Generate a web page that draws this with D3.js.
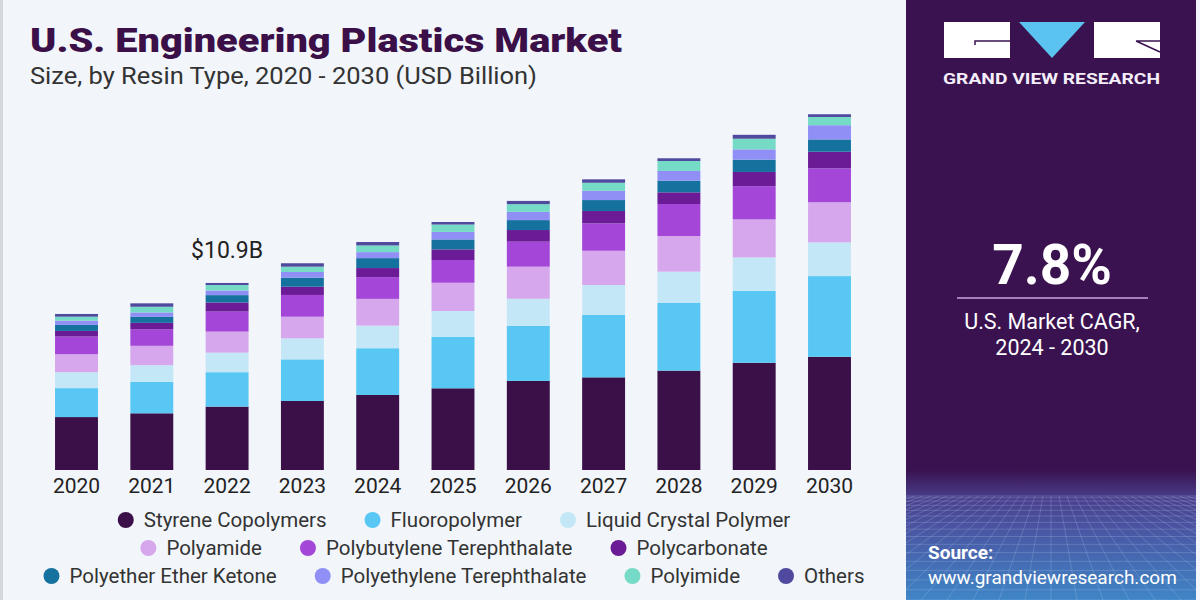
<!DOCTYPE html>
<html lang="en">
<head>
    <meta charset="UTF-8">
    <title>U.S. Engineering Plastics Market</title>
    <style>
        body {
            margin: 0;
            padding: 0;
            background-color: #f2f6fa;
            font-family: Roboto, "Liberation Sans", Arial, sans-serif;
        }
        svg { display: block; }
    </style>
</head>
<body>
    <div id="chart"></div>

    <script src="https://d3js.org/d3.v7.min.js"></script>
    <script>
        const width = 1200;
        const height = 600;

        // Data (USD Billion)
        const years = ["2020", "2021", "2022", "2023", "2024", "2025", "2026", "2027", "2028", "2029", "2030"];
        const resins = ["Styrene Copolymers", "Fluoropolymer", "Liquid Crystal Polymer", "Polyamide",
            "Polybutylene Terephthalate", "Polycarbonate", "Polyether Ether Ketone",
            "Polyethylene Terephthalate", "Polyimide", "Others"];
        const styrene   = [3.09, 3.31, 3.70, 4.03, 4.38, 4.77, 5.20, 5.41, 5.80, 6.26, 6.61];
        const fluoro    = [1.69, 1.84, 2.01, 2.43, 2.73, 3.01, 3.21, 3.64, 3.97, 4.20, 4.71];
        const lcp       = [0.93, 0.97, 1.14, 1.23, 1.32, 1.50, 1.59, 1.75, 1.81, 1.95, 1.97];
        const polyamide = [1.05, 1.13, 1.23, 1.26, 1.56, 1.65, 1.87, 2.00, 2.08, 2.22, 2.34];
        const pbt       = [1.03, 0.97, 1.17, 1.27, 1.27, 1.33, 1.46, 1.60, 1.87, 1.94, 1.98];
        const pc        = [0.33, 0.37, 0.53, 0.48, 0.53, 0.62, 0.68, 0.72, 0.68, 0.83, 0.97];
        const peek      = [0.35, 0.35, 0.43, 0.53, 0.58, 0.58, 0.58, 0.64, 0.68, 0.72, 0.72];
        const pet       = [0.25, 0.26, 0.27, 0.33, 0.35, 0.44, 0.48, 0.54, 0.57, 0.60, 0.83];
        const polyimide = [0.23, 0.33, 0.32, 0.31, 0.39, 0.43, 0.45, 0.47, 0.58, 0.62, 0.48];
        const others    = [0.16, 0.20, 0.12, 0.20, 0.20, 0.15, 0.19, 0.20, 0.16, 0.23, 0.16];
        const series = [styrene, fluoro, lcp, polyamide, pbt, pc, peek, pet, polyimide, others];
        const colors = ["#3b1048", "#58c7f3", "#c4e7f8", "#d6a7ec", "#a447d8", "#6c1b97",
            "#15729e", "#8f8ff6", "#75dac6", "#4f4a9e"];

        const annotation = { year: "2022", text: "$10.9B" };

        const svg = d3.select("#chart").append("svg")
            .attr("width", width)
            .attr("height", height);

        svg.append("rect").attr("width", width).attr("height", height).attr("fill", "#f2f6fa");
        svg.append("rect").attr("x", 0).attr("y", 0).attr("width", 3).attr("height", height).attr("fill", "#d4d7dc");

        // Title
        svg.append("text")
            .attr("x", 30).attr("y", 52)
            .attr("font-family", "Roboto, sans-serif")
            .attr("font-weight", 900)
            .attr("font-size", 33)
            .attr("textLength", 592)
            .attr("lengthAdjust", "spacingAndGlyphs")
            .attr("fill", "#3b1048")
            .text("U.S. Engineering Plastics Market");
        svg.append("text")
            .attr("x", 30).attr("y", 84)
            .attr("font-size", 23)
            .attr("textLength", 507)
            .attr("lengthAdjust", "spacingAndGlyphs")
            .attr("fill", "#333")
            .text("Size, by Resin Type, 2020 - 2030 (USD Billion)");

        // Scales
        const baseline = 470;
        const x = d3.scaleBand()
            .domain(years)
            .range([38.85, 867.15])
            .paddingInner(0.43)
            .paddingOuter(0.215);
        const y = d3.scaleLinear()
            .domain([0, 10.9])
            .range([baseline, 283.3]);

        const table = years.map((yr, i) => {
            const row = { year: yr };
            resins.forEach((r, j) => { row[r] = series[j][i]; });
            return row;
        });
        const stacked = d3.stack().keys(resins)(table);

        svg.append("g")
            .selectAll("g")
            .data(stacked)
            .join("g")
            .attr("fill", (d, i) => colors[i])
            .selectAll("rect")
            .data(d => d)
            .join("rect")
            .attr("x", d => x(d.data.year))
            .attr("y", d => y(d[1]))
            .attr("width", x.bandwidth())
            .attr("height", d => y(d[0]) - y(d[1]));

        // Year axis
        const xAxis = svg.append("g")
            .attr("transform", `translate(0,${baseline})`)
            .call(d3.axisBottom(x).tickSize(0).tickPadding(8));
        xAxis.select(".domain").remove();
        xAxis.selectAll("text")
            .attr("font-family", "Roboto, sans-serif")
            .attr("font-size", 21)
            .attr("fill", "#222");

        // Total label
        const annIdx = years.indexOf(annotation.year);
        const annTotal = d3.sum(series, s => s[annIdx]);
        svg.append("text")
            .attr("x", x(annotation.year) + x.bandwidth() / 2)
            .attr("y", y(annTotal) - 25)
            .attr("text-anchor", "middle")
            .attr("font-size", 23)
            .attr("fill", "#222")
            .text(annotation.text);

        // Legend
        const legendRows = [[0, 1, 2], [3, 4, 5], [6, 7, 8, 9]];
        const legendY = [527, 555, 583];
        const legendCenter = 454;
        const gap = 38;
        legendRows.forEach((row, ri) => {
            const g = svg.append("g");
            let cx = 0;
            row.forEach(k => {
                g.append("circle")
                    .attr("cx", cx + 8).attr("cy", legendY[ri] - 7)
                    .attr("r", 8)
                    .attr("fill", colors[k]);
                const t = g.append("text")
                    .attr("x", cx + 26).attr("y", legendY[ri])
                    .attr("font-size", 20.5)
                    .attr("fill", "#333")
                    .text(resins[k]);
                cx += 26 + t.node().getComputedTextLength() + gap;
            });
            const w = cx - gap;
            g.attr("transform", `translate(${legendCenter - w / 2},0)`);
        });

        // Right panel
        const panelX = 906, panelW = 290;
        const defs = svg.append("defs");
        defs.append("clipPath").attr("id", "panelClip")
            .append("rect").attr("x", panelX).attr("y", 0).attr("width", panelW).attr("height", height);
        const grad = defs.append("linearGradient")
            .attr("id", "floor").attr("x1", 0).attr("y1", 0).attr("x2", 0).attr("y2", 1);
        grad.append("stop").attr("offset", 0).attr("stop-color", "#3a1250");
        grad.append("stop").attr("offset", 0.22).attr("stop-color", "#4a3f8c");
        grad.append("stop").attr("offset", 0.45).attr("stop-color", "#4a55a2");
        grad.append("stop").attr("offset", 1).attr("stop-color", "#3f86c6");

        svg.append("rect")
            .attr("x", panelX).attr("y", 0)
            .attr("width", panelW).attr("height", height)
            .attr("fill", "#3a1250");
        svg.append("rect")
            .attr("x", panelX).attr("y", 470)
            .attr("width", panelW).attr("height", 130)
            .attr("fill", "url(#floor)");

        // perspective grid
        const grid = svg.append("g")
            .attr("clip-path", "url(#panelClip)")
            .attr("stroke", "#b4cdf2")
            .attr("stroke-opacity", 0.3)
            .attr("stroke-width", 0.8);
        const horizon = 496;
        d3.range(0, 16).forEach(i => {
            const yy = horizon + Math.pow(i / 15, 1.5) * 104;
            grid.append("line").attr("x1", panelX).attr("x2", panelX + panelW).attr("y1", yy).attr("y2", yy);
        });
        d3.range(-24, 25).forEach(i => {
            const vx = panelX + panelW / 2;
            grid.append("line")
                .attr("x1", vx + i * 8).attr("y1", horizon)
                .attr("x2", vx + i * 26).attr("y2", height);
        });

        // logo
        const logo = svg.append("g");
        logo.append("rect").attr("x", 944).attr("y", 22).attr("width", 66).attr("height", 36).attr("fill", "#fff");
        logo.append("path").attr("d", "M975,45 V41 H1010").attr("stroke", "#3a1250").attr("stroke-width", 1.5).attr("fill", "none");
        logo.append("path").attr("d", "M1019,22 H1085 L1052,58 Z").attr("fill", "#5bc3ef");
        logo.append("rect").attr("x", 1094).attr("y", 22).attr("width", 66).attr("height", 36).attr("fill", "#fff");
        logo.append("path").attr("d", "M1136,41 L1160,52 M1136,41 H1160").attr("stroke", "#3a1250").attr("stroke-width", 1.5).attr("fill", "none");
        svg.append("text")
            .attr("x", 943).attr("y", 84)
            .attr("font-family", "Roboto, sans-serif")
            .attr("font-weight", 700)
            .attr("font-size", 15)
            .attr("textLength", 217)
            .attr("lengthAdjust", "spacingAndGlyphs")
            .attr("fill", "#f4eefa")
            .text("GRAND VIEW RESEARCH");

        // CAGR
        svg.append("text")
            .attr("x", 1052).attr("y", 284)
            .attr("text-anchor", "middle")
            .attr("font-family", "Roboto, sans-serif")
            .attr("font-weight", 700)
            .attr("font-size", 55)
            .attr("fill", "#fff")
            .text("7.8%");
        svg.append("line")
            .attr("x1", 957).attr("x2", 1148)
            .attr("y1", 298).attr("y2", 298)
            .attr("stroke", "#c8a6e2").attr("stroke-width", 1.5);
        svg.append("text")
            .attr("x", 1052).attr("y", 329)
            .attr("text-anchor", "middle")
            .attr("font-size", 21.5)
            .attr("fill", "#fff")
            .text("U.S. Market CAGR,");
        svg.append("text")
            .attr("x", 1052).attr("y", 355)
            .attr("text-anchor", "middle")
            .attr("font-size", 21.5)
            .attr("fill", "#fff")
            .text("2024 - 2030");

        // Source
        svg.append("text")
            .attr("x", 928).attr("y", 559)
            .attr("font-weight", 700)
            .attr("font-size", 19)
            .attr("fill", "#fff")
            .text("Source:");
        svg.append("text")
            .attr("x", 928).attr("y", 584)
            .attr("font-size", 19)
            .attr("fill", "#fff")
            .text("www.grandviewresearch.com");
    </script>
</body>
</html>
